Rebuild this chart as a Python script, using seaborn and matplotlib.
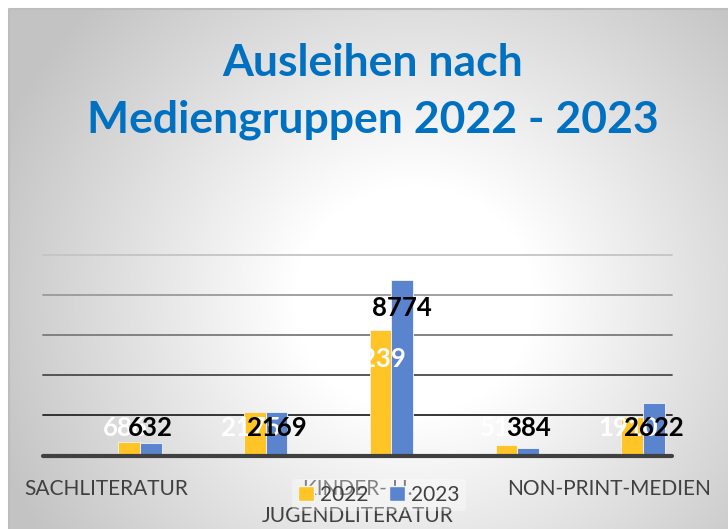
import numpy as np
import pandas as pd
import matplotlib
matplotlib.use("Agg")
import matplotlib.pyplot as plt
import matplotlib.transforms as mtransforms
from matplotlib.patches import Patch
import seaborn as sns

# ---- data ----
categories = ["SACHLITERATUR", "SCHÖNE LITERATUR", "KINDER- U.\nJUGENDLITERATUR",
              "ZEITSCHRIFTEN", "NON-PRINT-MEDIEN"]
shown_labels = [True, False, True, False, True]
years = ["2022", "2023"]
values_2022 = [686, 2175, 6239, 512, 1910]
values_2023 = [632, 2169, 8774, 384, 2622]
title_text = "Ausleihen nach\nMediengruppen 2022 - 2023"

colors = {"2022": "#FFC425", "2023": "#5B84CE"}

df = pd.DataFrame({
    "Kategorie": categories * 2,
    "Jahr": [years[0]] * len(categories) + [years[1]] * len(categories),
    "Ausleihen": values_2022 + values_2023,
})

sns.set_theme(style="white")
plt.rcParams["font.family"] = ["Lato", "DejaVu Sans"]

W, H = 728, 529
fig = plt.figure(figsize=(W / 100, H / 100), dpi=100)
fig.patch.set_facecolor("white")

# background radial gradient panel
bg = fig.add_axes([9 / W, 0, 1 - 9 / W, (H - 9) / H])
bg.set_axis_off()
ny, nx = 520, 719
yy, xx = np.mgrid[0:ny, 0:nx]
cx, cy = 405, 290
r = np.hypot((xx - cx) * 1.0, (yy - cy) * 1.05)
t = np.clip((r - 120) / 330, 0, 1)
shade = 1 - 0.235 * t
img = np.dstack([shade, shade, shade])
bg.imshow(img, aspect="auto", extent=[0, 1, 0, 1], origin="upper")
bg.set_xlim(0, 1)
bg.set_ylim(0, 1)
bg.plot([0, 0, 1], [0, 1, 1], color="#bdbdbd", lw=1.5, clip_on=False)

# main axes
ax_left, ax_right = 43, 672
base_px, top_px = 455.5, 255
ax = fig.add_axes([ax_left / W, (H - base_px) / H, (ax_right - ax_left) / W,
                   (base_px - top_px) / H])
ax.patch.set_alpha(0)

sns.barplot(data=df, x="Kategorie", y="Ausleihen", hue="Jahr", order=categories,
            hue_order=years, palette=colors, saturation=1, width=0.345, gap=0,
            edgecolor="#f4f4f4", linewidth=0.6, ax=ax, legend=False, zorder=3)

ax.set_ylim(0, 10000)
shift = 0.27  # bars drawn right of the category slots, as in the original
ax.set_xlim(-0.5 - shift, len(categories) - 0.5 - shift)
grid_levels = [2000, 4000, 6000, 8000, 10000]
grid_colors = ["#262626", "#4a4a4a", "#7a7a7a", "#9a9a9a", "#c4c4c4"]
for lvl, gc in zip(grid_levels, grid_colors):
    ax.axhline(lvl, color=gc, lw=1.3, zorder=1, clip_on=False)
ax.axhline(0, color="#404040", lw=3, zorder=4, clip_on=False)

for s in ax.spines.values():
    s.set_visible(False)
ax.set_yticks([])
ax.set_xlabel("")
ax.set_ylabel("")
ax.tick_params(axis="x", length=0, pad=17, labelsize=15, labelcolor="#404040")
ax.set_xticks(range(len(categories)))
ax.set_xticklabels(categories, linespacing=1.45)
offset = mtransforms.ScaledTranslation(-34 / 100, 0, fig.dpi_scale_trans)
for lab, show in zip(ax.get_xticklabels(), shown_labels):
    lab.set_transform(lab.get_transform() + offset)
    lab.set_visible(show)

# data labels
def label_y(v):
    return max(v - 1430, 1375)

cont22, cont23 = ax.containers[0], ax.containers[1]
for bar, v in zip(cont22, values_2022):
    ax.text(bar.get_x() + bar.get_width() / 2 - 0.03, label_y(v), f"{v}",
            ha="center", va="center", color="white", fontsize=18.5,
            fontweight="bold", zorder=6)
for bar, v in zip(cont23, values_2023):
    ax.text(bar.get_x() + bar.get_width() / 2, label_y(v), f"{v}",
            ha="center", va="center", color="black", fontsize=18.5,
            fontweight="bold", zorder=7)

# title
fig.text(373 / W, 1 - 92 / H, title_text, ha="center", va="center",
         fontsize=32, fontweight="bold", color="#0070C0", linespacing=1.5)

# legend
handles = [Patch(facecolor=colors[y], edgecolor="#f4f4f4", label=y) for y in years]
leg = fig.legend(handles=handles, loc="center", ncol=2,
                 bbox_to_anchor=(379 / W, 1 - 495 / H), fontsize=15,
                 frameon=True, handlelength=0.75, handleheight=0.75,
                 handletextpad=0.3, columnspacing=1.0, borderpad=0.3)
leg.get_frame().set_facecolor("white")
leg.get_frame().set_alpha(0.35)
leg.get_frame().set_edgecolor("none")
for txt in leg.get_texts():
    txt.set_color("#404040")

fig.savefig("out.png", dpi=100)
